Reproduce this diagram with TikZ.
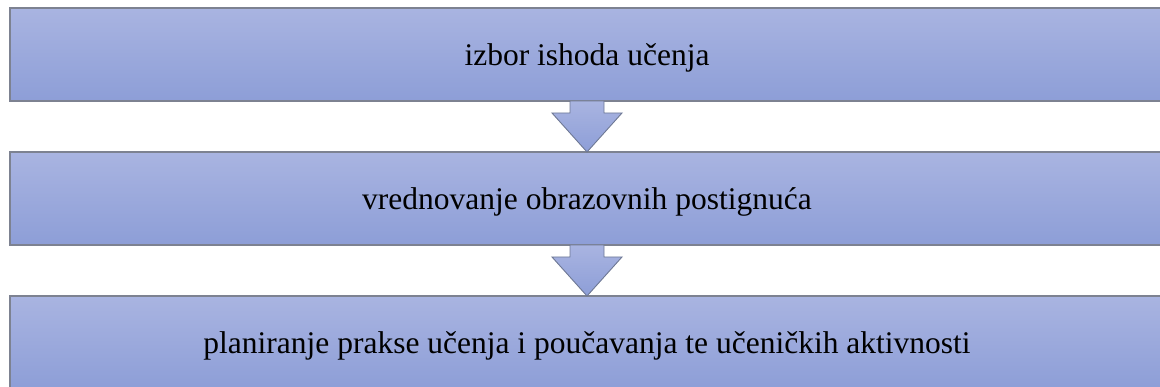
\documentclass[tikz,border=0pt]{standalone}
\usepackage{fontspec}
\setmainfont{Liberation Serif}
\usetikzlibrary{positioning}

\newlength{\du}
\setlength{\du}{1pt}

\tikzset{
  stagebox/.style={rectangle, draw=boxlinecolor, line width=1.2\du,
    top color=boxtopcolor, bottom color=boxbottomcolor,
    minimum width=1154\du, minimum height=93\du, inner sep=0pt, outer sep=0pt,
    text height=22\du, text depth=0pt,
    text=black, font=\fontsize{31.5\du}{38\du}\selectfont},
  downarrow/.style={draw=arrowlinecolor, line width=0.9\du, line join=miter,
    top color=boxtopcolor, bottom color=boxbottomcolor}
}

\begin{document}
\begin{tikzpicture}
\pgftransformxscale{1.000000}
\pgftransformyscale{-1.000000}
\definecolor{boxtopcolor}{rgb}{0.662745, 0.705882, 0.882353}
\definecolor{boxbottomcolor}{rgb}{0.552941, 0.619608, 0.843137}
\definecolor{boxlinecolor}{rgb}{0.490196, 0.509804, 0.568627}
\definecolor{arrowlinecolor}{rgb}{0.431373, 0.470588, 0.580392}
\useasboundingbox (0\du,0\du) rectangle (1160\du,387\du);
\clip (0\du,0\du) rectangle (1160\du,387\du);
% stages
\node[stagebox] (izbor) at (587.000000\du,54.500000\du){izbor ishoda učenja};
\node[stagebox] (vrednovanje) at (587.000000\du,198.500000\du){vrednovanje obrazovnih postignuća};
\node[stagebox] (planiranje) at (587.000000\du,342.500000\du){planiranje prakse učenja i poučavanja te učeničkih aktivnosti};
% arrows between stages
\draw[downarrow] (izbor.south) ++(-17\du,0) -- ++(0,12\du) -- ++(-18\du,0) -- (vrednovanje.north)
  -- ++(35\du,-39\du) -- ++(-18\du,0) -- ++(0,-12\du) -- cycle;
\draw[downarrow] (vrednovanje.south) ++(-17\du,0) -- ++(0,12\du) -- ++(-18\du,0) -- (planiranje.north)
  -- ++(35\du,-39\du) -- ++(-18\du,0) -- ++(0,-12\du) -- cycle;
\end{tikzpicture}
\end{document}
